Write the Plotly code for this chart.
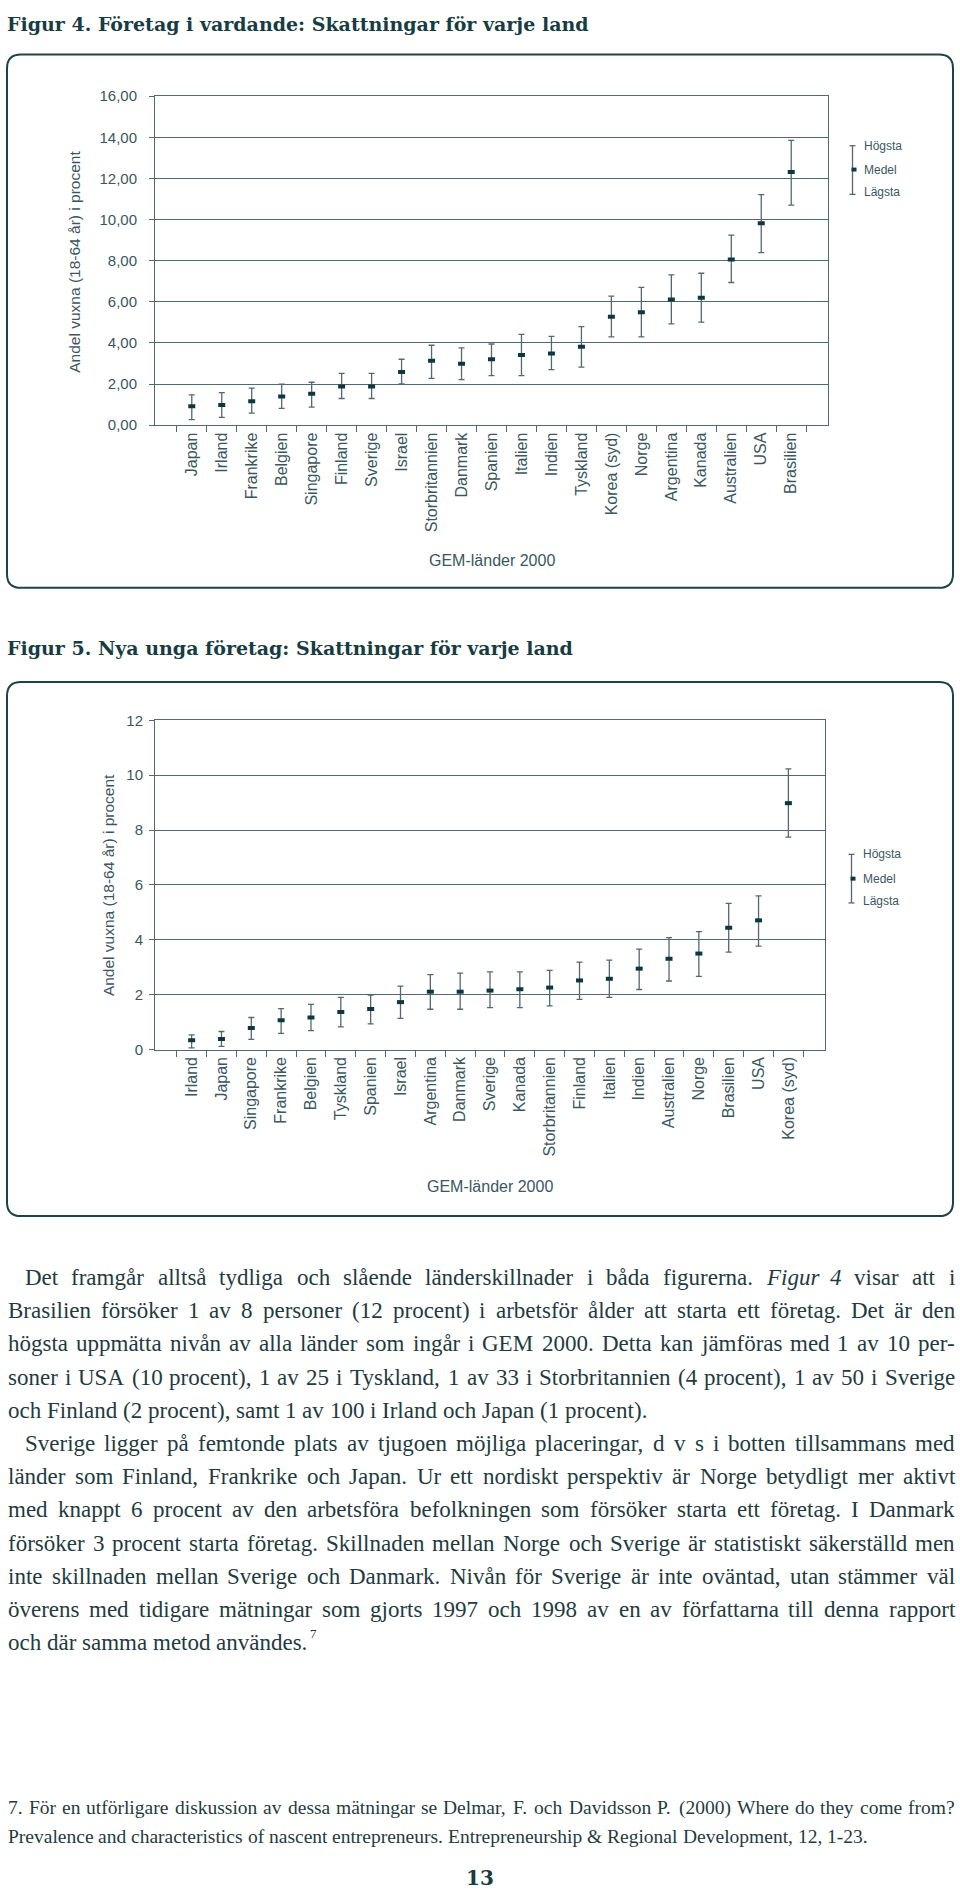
import re
import plotly.graph_objects as go

W, H = 960, 1899

# ---------------- data: Figur 4 ----------------
countries4 = ["Japan", "Irland", "Frankrike", "Belgien", "Singapore", "Finland", "Sverige",
              "Israel", "Storbritannien", "Danmark", "Spanien", "Italien", "Indien", "Tyskland",
              "Korea (syd)", "Norge", "Argentina", "Kanada", "Australien", "USA", "Brasilien"]
mean4 = [0.92, 0.98, 1.17, 1.40, 1.53, 1.88, 1.88, 2.59, 3.13, 2.99, 3.21, 3.41, 3.49, 3.82,
         5.28, 5.49, 6.12, 6.20, 8.06, 9.82, 12.32]
high4 = [1.48, 1.59, 1.80, 2.00, 2.09, 2.52, 2.52, 3.21, 3.89, 3.76, 3.95, 4.42, 4.32, 4.80,
         6.28, 6.70, 7.31, 7.39, 9.24, 11.21, 13.85]
low4 = [0.27, 0.38, 0.59, 0.82, 0.88, 1.30, 1.30, 2.01, 2.28, 2.22, 2.41, 2.41, 2.70, 2.83,
        4.30, 4.30, 4.93, 5.01, 6.94, 8.39, 10.70]

# ---------------- data: Figur 5 ----------------
countries5 = ["Irland", "Japan", "Singapore", "Frankrike", "Belgien", "Tyskland", "Spanien",
              "Israel", "Argentina", "Danmark", "Sverige", "Kanada", "Storbritannien", "Finland",
              "Italien", "Indien", "Australien", "Norge", "Brasilien", "USA", "Korea (syd)"]
mean5 = [0.34, 0.39, 0.79, 1.07, 1.17, 1.37, 1.48, 1.73, 2.11, 2.11, 2.15, 2.20, 2.26, 2.52,
         2.58, 2.95, 3.31, 3.50, 4.44, 4.71, 8.98]
high5 = [0.54, 0.66, 1.17, 1.49, 1.65, 1.90, 1.99, 2.31, 2.73, 2.79, 2.83, 2.83, 2.89, 3.19,
         3.26, 3.66, 4.08, 4.30, 5.33, 5.60, 10.23]
low5 = [0.06, 0.12, 0.37, 0.59, 0.69, 0.83, 0.94, 1.14, 1.47, 1.47, 1.53, 1.53, 1.59, 1.83,
        1.90, 2.19, 2.50, 2.67, 3.55, 3.77, 7.74]

# ---------------- texts ----------------
title4 = "Figur 4. Företag i vardande: Skattningar för varje land"
title5 = "Figur 5. Nya unga företag: Skattningar för varje land"
ytitle = "Andel vuxna (18-64 år) i procent"
xtitle = "GEM-länder 2000"
legend_labels = ["Högsta", "Medel", "Lägsta"]

body_lines = [
    ("Det framgår alltså tydliga och slående länderskillnader i båda figurerna. <i>Figur</i> <i>4</i> visar att i", True, True),
    ("Brasilien försöker 1 av 8 personer (12 procent) i arbetsför ålder att starta ett företag. Det är den", False, True),
    ("högsta uppmätta nivån av alla länder som ingår i GEM 2000. Detta kan jämföras med 1 av 10 per-", False, True),
    ("soner i USA (10 procent), 1 av 25 i Tyskland, 1 av 33 i Storbritannien (4 procent), 1 av 50 i Sverige", False, True),
    ("och Finland (2 procent), samt 1 av 100 i Irland och Japan (1 procent).", False, False),
    ("Sverige ligger på femtonde plats av tjugoen möjliga placeringar, d v s i botten tillsammans med", True, True),
    ("länder som Finland, Frankrike och Japan. Ur ett nordiskt perspektiv är Norge betydligt mer aktivt", False, True),
    ("med knappt 6 procent av den arbetsföra befolkningen som försöker starta ett företag. I Danmark", False, True),
    ("försöker 3 procent starta företag. Skillnaden mellan Norge och Sverige är statistiskt säkerställd men", False, True),
    ("inte skillnaden mellan Sverige och Danmark. Nivån för Sverige är inte oväntad, utan stämmer väl", False, True),
    ("överens med tidigare mätningar som gjorts 1997 och 1998 av en av författarna till denna rapport", False, True),
    ("och där samma metod användes.", False, False),
]
footnote_mark = "7"
foot_lines = [
    ("7. För en utförligare diskussion av dessa mätningar se Delmar, F. och Davidsson P. (2000) Where do they come from?", False, True),
    ("Prevalence and characteristics of nascent entrepreneurs. Entrepreneurship & Regional Development, 12, 1-23.", False, False),
]
page_no = "13"

# ---------------- styling ----------------
AX = "#4f6a70"
TXT = "#3a575e"
BAR = "#56686c"
DARK = "#0e3742"
FRAME = "#1f4248"
TITLEC = "#173c42"
BODYC = "#1f3b40"
SANS = "Liberation Sans, Arial, sans-serif"
SERIF = "Liberation Serif, Times New Roman, serif"
SLAB = "DejaVu Serif, serif"

X = lambda px: px / W
Y = lambda py: 1 - py / H

TW = {' ': 250, '!': 333, '&': 778, "'": 333, '(': 333, ')': 333, ',': 250, '-': 333, '.': 250,
      '/': 278, ':': 278, ';': 278, '?': 444,
      'A': 722, 'B': 667, 'C': 667, 'D': 722, 'E': 611, 'F': 556, 'G': 722, 'H': 722, 'I': 333,
      'J': 389, 'K': 722, 'L': 611, 'M': 889, 'N': 722, 'O': 722, 'P': 556, 'Q': 722, 'R': 667,
      'S': 556, 'T': 611, 'U': 722, 'V': 722, 'W': 944, 'X': 722, 'Y': 722, 'Z': 611,
      'a': 444, 'b': 500, 'c': 444, 'd': 500, 'e': 444, 'f': 333, 'g': 500, 'h': 500, 'i': 278,
      'j': 278, 'k': 500, 'l': 278, 'm': 778, 'n': 500, 'o': 500, 'p': 500, 'q': 500, 'r': 333,
      's': 389, 't': 278, 'u': 500, 'v': 500, 'w': 722, 'x': 500, 'y': 500, 'z': 444,
      'å': 444, 'ä': 444, 'ö': 500, 'Å': 722, 'Ä': 722, 'Ö': 722, 'é': 444}


def text_w(s, size):
    s = re.sub(r"<[^>]+>", "", s)
    return sum(TW.get(c, 500) for c in s) / 1000.0 * size


annotations = []
shapes = []


def add_lines(lines, y0, dy, size, left, right, indent):
    end = (left, y0)
    for k, (line, ind, just) in enumerate(lines):
        py = y0 + k * dy
        x0 = left + (indent if ind else 0)
        words = line.split(" ")
        widths = [text_w(w, size) for w in words]
        if just and len(words) > 1:
            gap = (right - x0 - sum(widths)) / (len(words) - 1)
        else:
            gap = 0.25 * size
        x = x0
        for w, wd in zip(words, widths):
            annotations.append(dict(x=X(x), y=Y(py), xref="paper", yref="paper", xanchor="left",
                                    yanchor="middle", text=w, showarrow=False, borderpad=0,
                                    font=dict(family=SERIF, size=size, color=BODYC)))
            x += wd + gap
        end = (x - gap, py)
    return end


end_x, end_y = add_lines(body_lines, 1280, 33.5, 23, 7, 954, 17)
annotations.append(dict(x=X(end_x + 2), y=Y(end_y - 9), xref="paper", yref="paper", xanchor="left",
                        yanchor="middle", text=footnote_mark, showarrow=False, borderpad=0,
                        font=dict(family=SERIF, size=13, color=BODYC)))
add_lines(foot_lines, 1815, 29, 19.5, 7, 954, 0)

# titles
annotations.append(dict(x=X(5), y=Y(15), xref="paper", yref="paper", xanchor="left", yanchor="middle",
                        text="<b>" + title4 + "</b>", showarrow=False,
                        font=dict(family=SLAB, size=19, color=TITLEC)))
annotations.append(dict(x=X(5), y=Y(645), xref="paper", yref="paper", xanchor="left", yanchor="middle",
                        text="<b>" + title5 + "</b>", showarrow=False,
                        font=dict(family=SLAB, size=19, color=TITLEC)))
annotations.append(dict(x=X(480), y=Y(1886), xref="paper", yref="paper", xanchor="center", yanchor="middle",
                        text="<b>" + page_no + "</b>", showarrow=False,
                        font=dict(family=SLAB, size=20, color=TITLEC)))


# rounded frames
def rrect(x0, y0, x1, y1, r):
    p = (f"M {X(x0+r)},{Y(y0)} L {X(x1-r)},{Y(y0)} Q {X(x1)},{Y(y0)} {X(x1)},{Y(y0+r)} "
         f"L {X(x1)},{Y(y1-r)} Q {X(x1)},{Y(y1)} {X(x1-r)},{Y(y1)} "
         f"L {X(x0+r)},{Y(y1)} Q {X(x0)},{Y(y1)} {X(x0)},{Y(y1-r)} "
         f"L {X(x0)},{Y(y0+r)} Q {X(x0)},{Y(y0)} {X(x0+r)},{Y(y0)} Z")
    return dict(type="path", path=p, xref="paper", yref="paper",
                line=dict(color=FRAME, width=2), fillcolor="rgba(0,0,0,0)", layer="below")


shapes.append(rrect(7, 46, 953, 584, 14))
shapes.append(rrect(7, 679, 953, 1218, 14))


# chart decorations (axis titles and legend)
def chart_deco(plot_l, plot_r, ytitle_x, ytitle_y, xtitle_y, leg_x, leg_top, leg_bot, leg_mid):
    annotations.append(dict(x=X(ytitle_x), y=Y(ytitle_y), xref="paper", yref="paper", xanchor="center",
                            yanchor="middle", text=ytitle, textangle=-90, showarrow=False,
                            font=dict(family=SANS, size=15.5, color=TXT)))
    annotations.append(dict(x=X((plot_l + plot_r) / 2), y=Y(xtitle_y), xref="paper", yref="paper",
                            xanchor="center", yanchor="middle", text=xtitle, showarrow=False,
                            font=dict(family=SANS, size=16, color=TXT)))
    shapes.append(dict(type="line", xref="paper", yref="paper", x0=X(leg_x), x1=X(leg_x),
                       y0=Y(leg_top), y1=Y(leg_bot), line=dict(color=BAR, width=1.3)))
    for yy in (leg_top, leg_bot):
        shapes.append(dict(type="line", xref="paper", yref="paper", x0=X(leg_x - 3), x1=X(leg_x + 3),
                           y0=Y(yy), y1=Y(yy), line=dict(color=BAR, width=1.3)))
    shapes.append(dict(type="rect", xref="paper", yref="paper", x0=X(leg_x - 1), x1=X(leg_x + 4),
                       y0=Y(leg_mid - 2), y1=Y(leg_mid + 2), line=dict(width=0), fillcolor=DARK))
    for lab, yy in zip(legend_labels, (leg_top, leg_mid, leg_bot - 2)):
        annotations.append(dict(x=X(leg_x + 9), y=Y(yy), xref="paper", yref="paper", xanchor="left",
                                yanchor="middle", text=lab, showarrow=False,
                                font=dict(family=SANS, size=12, color=TXT)))


chart_deco(155, 828, 75, 255, 556, 852.5, 138, 187, 162)
chart_deco(155, 825, 108, 884, 1188, 851.5, 853, 902, 877.5)


def err_trace(cats, mean, high, low, xa, ya):
    return go.Scatter(
        x=cats, y=mean, mode="markers", xaxis=xa, yaxis=ya, hoverinfo="skip",
        marker=dict(symbol="line-ew", size=5, color=DARK, line=dict(width=4, color=DARK)),
        error_y=dict(type="data", symmetric=False,
                     array=[h - m for h, m in zip(high, mean)],
                     arrayminus=[m - l for m, l in zip(mean, low)],
                     color=BAR, thickness=1.3, width=3))


fig = go.Figure([err_trace(countries4, mean4, high4, low4, "x", "y"),
                 err_trace(countries5, mean5, high5, low5, "x2", "y2")])

xcommon = dict(type="category", tickson="boundaries", ticks="outside", ticklen=6, tickcolor=AX,
               showline=True, linecolor=AX, linewidth=1, mirror=True, tickangle=-90, showgrid=False,
               tickfont=dict(family=SANS, size=16, color=TXT), fixedrange=True)
ycommon = dict(showgrid=True, gridcolor=AX, gridwidth=1, showline=True, linecolor=AX, linewidth=1,
               mirror=True, ticks="outside", ticklen=5, tickcolor=AX, zeroline=False, tick0=0, dtick=2,
               tickfont=dict(family=SANS, size=15, color=TXT), fixedrange=True)

fig.update_layout(
    width=W, height=H, margin=dict(l=0, r=0, t=0, b=0), autosize=False,
    paper_bgcolor="white", plot_bgcolor="white", showlegend=False, separators=",.",
    xaxis=dict(xcommon, domain=[X(155), X(828)], anchor="y",
               categoryorder="array", categoryarray=countries4),
    yaxis=dict(ycommon, domain=[Y(420), Y(88)], anchor="x", range=[0, 16], tickformat=".2f",
               ticklabelstandoff=9),
    xaxis2=dict(xcommon, domain=[X(155), X(825)], anchor="y2",
                categoryorder="array", categoryarray=countries5),
    yaxis2=dict(ycommon, domain=[Y(1050), Y(717.7)], anchor="x2", range=[0, 12], tickformat="d",
                ticklabelstandoff=3),
    annotations=annotations, shapes=shapes,
)

fig.write_html("out.html")
